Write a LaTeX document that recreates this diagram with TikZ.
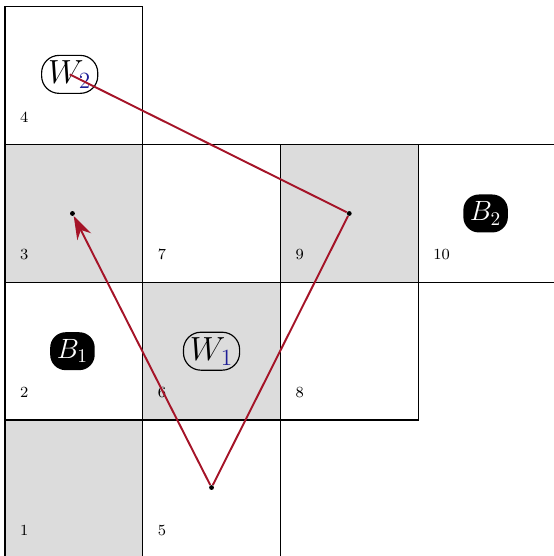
\documentclass[tikz,border=0pt]{standalone}
\usetikzlibrary{arrows.meta}
\definecolor{pathred}{RGB}{165,20,40}
\definecolor{cellgray}{RGB}{220,220,220}
\definecolor{subblue}{RGB}{30,30,150}
\begin{document}
\begin{tikzpicture}[x=2.5cm, y=2.5cm, >={Stealth[length=12pt,width=8pt]},
  cell/.style={draw, line width=0.6pt},
  shaded/.style={fill=cellgray},
  num/.style={font=\footnotesize},
  white/.style={draw, line width=0.6pt, rounded corners=9pt, minimum width=29pt, minimum height=19.6pt, inner sep=1pt, font=\LARGE},
  black/.style={fill=black, text=white, rounded corners=8pt, minimum width=23pt, minimum height=19.6pt, inner sep=1pt, font=\Large},
  dot/.style={circle, fill=black, inner sep=0pt, minimum size=2.5pt},
  move/.style={draw=pathred, line width=1pt}]
\useasboundingbox (-0.036,0.013) rectangle (3.98,4.05);
% shaded squares
\fill[shaded] (0,0) rectangle (1,1);
\fill[shaded] (1,1) rectangle (2,2);
\fill[shaded] (0,2) rectangle (1,3);
\fill[shaded] (2,2) rectangle (3,3);
% board
\draw[cell] (0,0) rectangle (1,1);
\draw[cell] (1,0) rectangle (2,1);
\draw[cell] (0,1) rectangle (1,2);
\draw[cell] (1,1) rectangle (2,2);
\draw[cell] (2,1) rectangle (3,2);
\draw[cell] (0,2) rectangle (1,3);
\draw[cell] (1,2) rectangle (2,3);
\draw[cell] (2,2) rectangle (3,3);
\draw[cell] (3,2) rectangle (4,3);
\draw[cell] (0,3) rectangle (1,4);
% square numbers
\node[num] (n1) at (0.14,0.2) {1};
\node[num] (n5) at (1.14,0.2) {5};
\node[num] (n2) at (0.14,1.2) {2};
\node[num] (n6) at (1.14,1.2) {6};
\node[num] (n8) at (2.14,1.2) {8};
\node[num] (n3) at (0.14,2.2) {3};
\node[num] (n7) at (1.14,2.2) {7};
\node[num] (n9) at (2.14,2.2) {9};
\node[num] (n10) at (3.17,2.2) {10};
\node[num] (n4) at (0.14,3.2) {4};
% pieces
\node[white] (w2) at (0.47,3.51) {$W_{\textcolor{subblue}{2}}$};
\node[white] (w1) at (1.5,1.5) {$W_{\textcolor{subblue}{1}}$};
\node[black] (b1) at (0.49,1.5) {$B_1$};
\node[black] (b2) at (3.49,2.5) {$B_2$};
% moves
\node[dot] (p5) at (1.5,0.51) {};
\node[dot] (p3) at (0.49,2.5) {};
\node[dot] (p9) at (2.5,2.5) {};
\draw[move,->] (p5) -- (p3);
\draw[move] (p5) -- (p9);
\draw[move] (p9) -- (w2.center);
\end{tikzpicture}
\end{document}
